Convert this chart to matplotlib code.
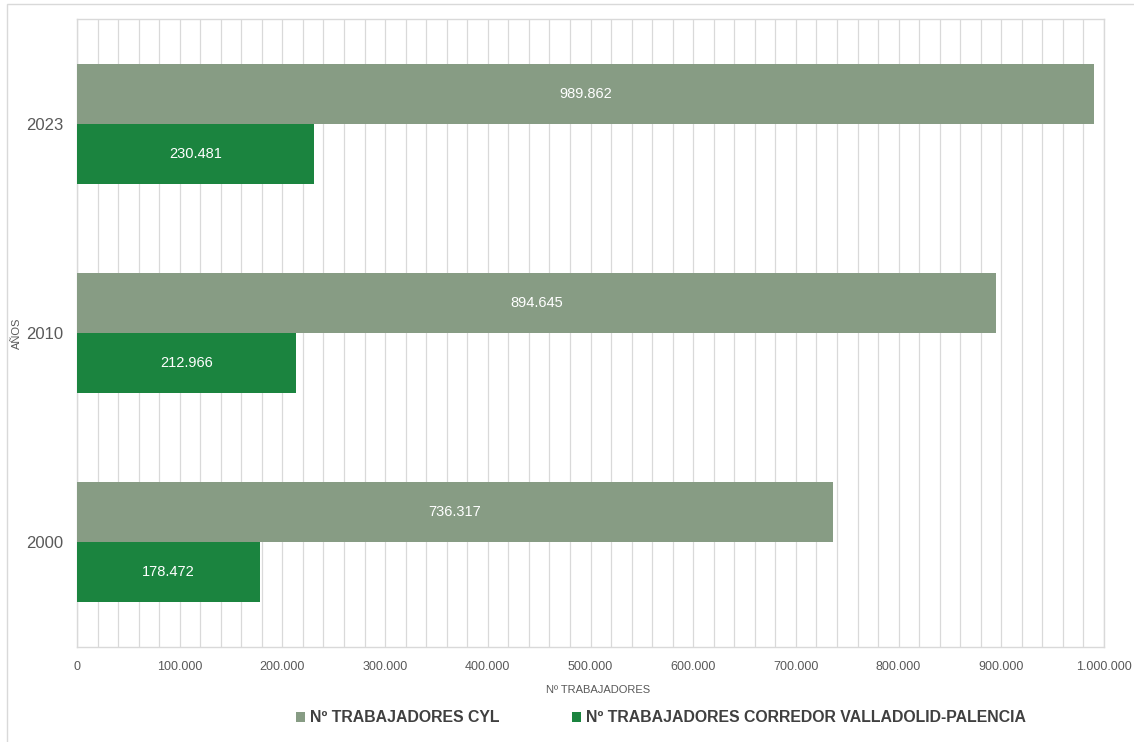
import matplotlib
matplotlib.use("Agg")
import matplotlib.pyplot as plt
from matplotlib.patches import Rectangle
from matplotlib.ticker import MultipleLocator, FuncFormatter
import numpy as np

plt.rcParams['font.family'] = ['Liberation Sans', 'DejaVu Sans']

years = ["2000", "2010", "2023"]
cyl = [736317, 894645, 989862]
corredor = [178472, 212966, 230481]
series_names = ["Nº TRABAJADORES CYL", "Nº TRABAJADORES CORREDOR VALLADOLID-PALENCIA"]
colors = ["#879c84", "#1b843f"]


def miles(v, pos=None):
    return f"{int(round(v)):,}".replace(",", ".")


fig = plt.figure(figsize=(11.34, 7.42), dpi=100)
fig.patch.set_facecolor("white")
fig.add_artist(Rectangle((7 / 1134, -0.1), 1.2, 1 - 4 / 742 + 0.1, transform=fig.transFigure,
                         fill=False, edgecolor="#d9d9d9", linewidth=1.0))

ax = fig.add_axes([77 / 1134, 95 / 742, 1027 / 1134, 628 / 742])
y = np.arange(len(years))
h = 0.287
b1 = ax.barh(y + h / 2, cyl, height=h, color=colors[0], label=series_names[0], zorder=3)
b2 = ax.barh(y - h / 2, corredor, height=h, color=colors[1], label=series_names[1], zorder=3)

for bars, vals in ((b1, cyl), (b2, corredor)):
    for rect, v in zip(bars, vals):
        ax.text(v / 2, rect.get_y() + rect.get_height() / 2, miles(v), color="white",
                ha="center", va="center", fontsize=10.5, zorder=4)

ax.set_xlim(0, 1000000)
ax.set_ylim(-0.5, len(years) - 0.5)
ax.set_yticks(y)
ax.set_yticklabels(years, fontsize=12, color="#595959")
ax.xaxis.set_major_locator(MultipleLocator(100000))
ax.xaxis.set_minor_locator(MultipleLocator(20000))
ax.xaxis.set_major_formatter(FuncFormatter(miles))
ax.tick_params(axis="x", labelsize=9, colors="#595959", length=0, which="both", pad=10)
ax.tick_params(axis="y", length=0, pad=10)
ax.grid(axis="x", which="both", color="#d9d9d9", linewidth=0.9, zorder=0)
for s in ax.spines.values():
    s.set_color("#d9d9d9")
    s.set_linewidth(1.0)

fig.text(598 / 1134, 1 - 690 / 742, "Nº TRABAJADORES", fontsize=8, color="#595959",
         ha="center", va="center")
fig.text(17 / 1134, 1 - 333 / 742, "AÑOS", fontsize=8, color="#595959",
         ha="center", va="center", rotation=90)

leg = fig.legend(handles=[b1, b2], loc="center", bbox_to_anchor=(661 / 1134, 1 - 718 / 742),
                 ncol=2, frameon=False, handlelength=0.55, handleheight=0.55, handletextpad=0.3,
                 columnspacing=4.6, prop={"weight": "bold", "size": 11.4})
for t in leg.get_texts():
    t.set_color("#404040")

fig.savefig("out.png", dpi=100, facecolor="white")
